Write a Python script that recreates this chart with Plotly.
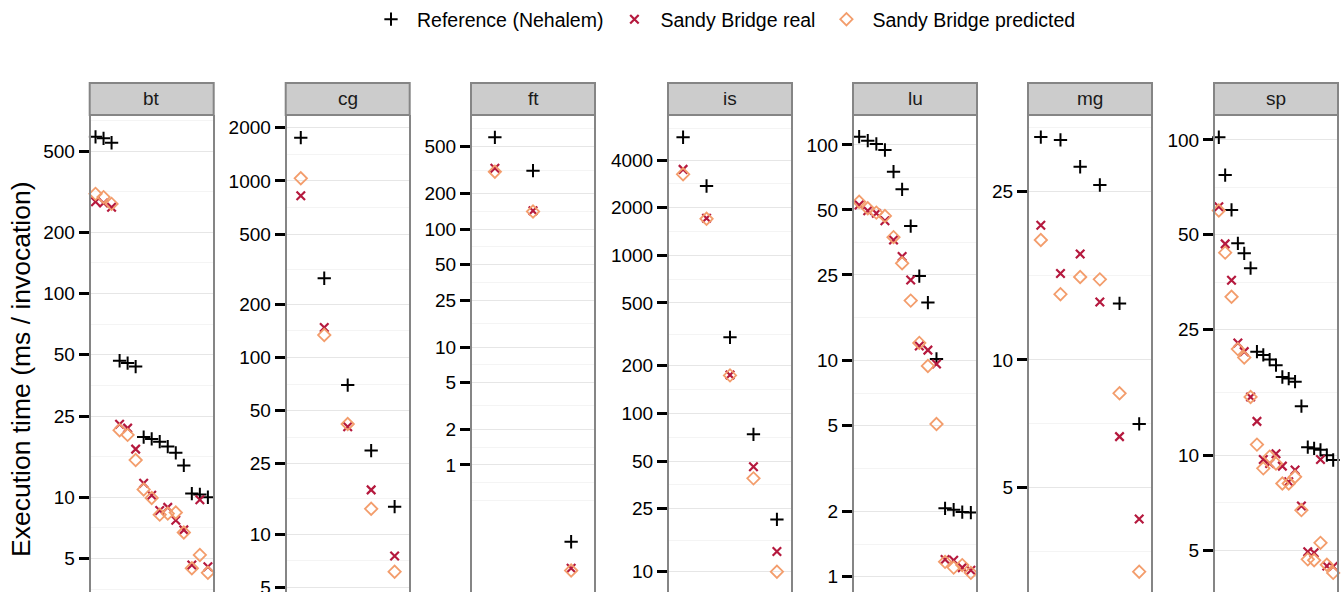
import math
import plotly.graph_objects as go

# Benchmarks shown as facets, left to right
benchmarks = ["bt", "cg", "ft", "is", "lu", "mg", "sp"]

# Axis breaks shared by every facet (only those inside a facet's range are drawn)
breaks = [1, 2, 5, 10, 25, 50, 100, 200, 500, 1000, 2000, 4000]

# Execution time (ms / invocation), one value per configuration
bt_reference = [587, 577, 549, 46.7, 45.5, 43.7, 19.7, 19.3, 18.7, 17.7, 16.5, 14.3, 10.4, 10.3, 9.98]
bt_real = [282, 278, 265, 22.8, 21.8, 17.2, 11.7, 10.2, 8.6, 8.9, 7.7, 6.9, 4.64, 9.7, 4.55]
bt_predicted = [308, 297, 275, 21.3, 20.2, 15.2, 10.9, 9.9, 8.2, 8.3, 8.4, 6.7, 4.47, 5.2, 4.25]

cg_reference = [1756, 281, 69.8, 29.7, 14.3]
cg_real = [824, 148, 40.5, 17.8, 7.51]
cg_predicted = [1034, 134, 42.0, 13.9, 6.12]

ft_reference = [601, 313, 0.223]
ft_real = [328, 143, 0.133]
ft_predicted = [307, 141, 0.127]

is_reference = [5570, 2740, 303, 73.8, 21.4]
is_real = [3490, 1712, 175, 46.0, 13.4]
is_predicted = [3250, 1700, 174, 38.9, 10.0]

lu_reference = [109.3, 104.7, 101.1, 94.8, 75.2, 62.3, 42.1, 24.7, 18.6, 10.2, 2.07, 2.04, 1.99, 1.98]
lu_real = [52.7, 49.6, 48.3, 44.6, 36.3, 30.4, 23.7, 11.7, 11.2, 9.66, 1.20, 1.19, 1.10, 1.07]
lu_predicted = [54.6, 50.9, 48.6, 46.9, 37.4, 28.3, 19.0, 12.1, 9.46, 5.09, 1.17, 1.10, 1.13, 1.04]

mg_reference = [33.6, 33.1, 28.6, 25.9, 13.6, 7.06]
mg_real = [20.8, 16.0, 17.8, 13.7, 6.59, 4.21]
mg_predicted = [19.2, 14.3, 15.7, 15.5, 8.34, 3.16]

sp_reference = [102, 77.4, 60.0, 47.0, 43.7, 39.2, 21.3, 20.8, 20.1, 19.3, 17.7, 17.5, 17.1, 14.3,
                10.6, 10.5, 10.4, 10.0, 9.65]
sp_real = [61.4, 46.8, 35.9, 22.7, 21.3, 15.3, 12.8, 9.69, 9.41, 10.1, 9.23, 8.23, 8.97, 6.90,
           4.94, 4.90, 9.69, 4.45, 4.43]
sp_predicted = [59.7, 43.9, 31.8, 21.7, 20.4, 15.3, 10.8, 9.08, 9.89, 9.41, 8.13, 8.13, 8.54, 6.69,
                4.67, 4.64, 5.27, 4.49, 4.23]

reference = [bt_reference, cg_reference, ft_reference, is_reference, lu_reference, mg_reference, sp_reference]
real = [bt_real, cg_real, ft_real, is_real, lu_real, mg_real, sp_real]
predicted = [bt_predicted, cg_predicted, ft_predicted, is_predicted, lu_predicted, mg_predicted, sp_predicted]

# ---- layout constants ----
W, H = 1343, 592
FONT = "Liberation Sans, Arial, Helvetica, sans-serif"
panel_left = [90.7, 286.7, 472, 669, 854, 1029, 1215]
panel_width = 122
panel_top = 115
strip_top = 83
# log10 limits of each facet's y axis (free scales)
y_limits = [
    (0.534, 2.8757),
    (0.672, 3.373),
    (-1.078, 2.968),
    (0.8716, 3.8865),
    (-0.0716, 2.139),
    (0.4518, 1.5786),
    (0.5658, 2.0792),
]

series_style = [
    ("Reference (Nehalem)", reference,
     dict(symbol="cross-thin", size=9.5, color="black", line=dict(width=2, color="black"))),
    ("Sandy Bridge real", real,
     dict(symbol="x-thin", size=8.5, color="#b5193e", line=dict(width=2.2, color="#b5193e"))),
    ("Sandy Bridge predicted", predicted,
     dict(symbol="diamond-open", size=9.5, color="#f39d6c", line=dict(width=1.8, color="#f39d6c"))),
]


def minor_breaks(lo, hi):
    """Minor grid positions: midpoints between majors, extended one step each side."""
    inside = [math.log10(b) for b in breaks if lo <= math.log10(b) <= hi]
    step = inside[1] - inside[0]
    ext = [inside[0] - step] + inside + [inside[-1] + step]
    pts = []
    for a, c in zip(ext[:-1], ext[1:]):
        pts += [a, (a + c) / 2]
    pts.append(ext[-1])
    return [10 ** p for p in pts if lo <= p <= hi]


fig = go.Figure()
layout = {}
shapes = []
annotations = []

for i, name in enumerate(benchmarks):
    n = i + 1
    xname = "x" if n == 1 else f"x{n}"
    yname = "y" if n == 1 else f"y{n}"
    xkey = "xaxis" if n == 1 else f"xaxis{n}"
    ykey = "yaxis" if n == 1 else f"yaxis{n}"
    count = len(reference[i])
    xs = list(range(1, count + 1))

    for label, data, marker in series_style:
        fig.add_trace(go.Scatter(
            x=xs, y=data[i], mode="markers", name=label, legendgroup=label,
            showlegend=(i == 0), marker=marker, xaxis=xname, yaxis=yname,
            cliponaxis=False, hoverinfo="skip",
        ))

    lo, hi = y_limits[i]
    ticks = [b for b in breaks if lo <= math.log10(b) <= hi]
    x0 = panel_left[i] / W
    x1 = (panel_left[i] + panel_width) / W
    layout[xkey] = dict(
        domain=[x0, x1], anchor=yname, range=[0.4, count + 0.6],
        showgrid=False, showline=False, zeroline=False, showticklabels=False,
        ticks="", fixedrange=True,
    )
    layout[ykey] = dict(
        domain=[0, 1 - panel_top / H], anchor=xname, type="log", range=[lo, hi],
        tickmode="array", tickvals=ticks, ticktext=[str(t) for t in ticks],
        ticks="outside", ticklen=10, tickwidth=2.5, tickcolor="black",
        tickfont=dict(family=FONT, size=19, color="black"),
        ticklabeloverflow="allow",
        showline=True, mirror=True, linecolor="#858585", linewidth=2,
        showgrid=True, gridcolor="#e6e6e6", gridwidth=1.2,
        minor=dict(tickmode="array", tickvals=minor_breaks(lo, hi), showgrid=True,
                   gridcolor="#f4f4f4", gridwidth=1, ticks=""),
        zeroline=False, fixedrange=True, automargin=False,
    )

    # facet strip
    shapes.append(dict(
        type="rect", xref="paper", yref="paper",
        x0=(panel_left[i] - 1) / W, x1=(panel_left[i] + panel_width + 1) / W,
        y0=1 - panel_top / H, y1=1 - strip_top / H,
        fillcolor="#cccccc", line=dict(color="#858585", width=2), layer="above",
    ))
    annotations.append(dict(
        text=name, xref="paper", yref="paper",
        x=(panel_left[i] + panel_width / 2) / W, y=1 - (strip_top + panel_top) / 2 / H,
        xanchor="center", yanchor="middle", showarrow=False,
        font=dict(family=FONT, size=19, color="#1a1a1a"),
    ))

annotations.append(dict(
    text="Execution time (ms / invocation)", xref="paper", yref="paper",
    x=21 / W, y=1 - 369 / H, xanchor="center", yanchor="middle",
    textangle=-90, showarrow=False,
    font=dict(family=FONT, size=26.5, color="black"),
))

fig.update_layout(
    width=W, height=H,
    margin=dict(l=0, r=0, t=0, b=0),
    paper_bgcolor="white", plot_bgcolor="white",
    font=dict(family=FONT, size=19, color="black"),
    showlegend=True,
    legend=dict(orientation="h", x=365 / W, xanchor="left", y=1, yanchor="top",
                itemwidth=42,
                font=dict(family=FONT, size=19.5, color="black"),
                bgcolor="rgba(0,0,0,0)", traceorder="normal"),
    shapes=shapes, annotations=annotations,
    **layout,
)

fig.write_html("out.html")
